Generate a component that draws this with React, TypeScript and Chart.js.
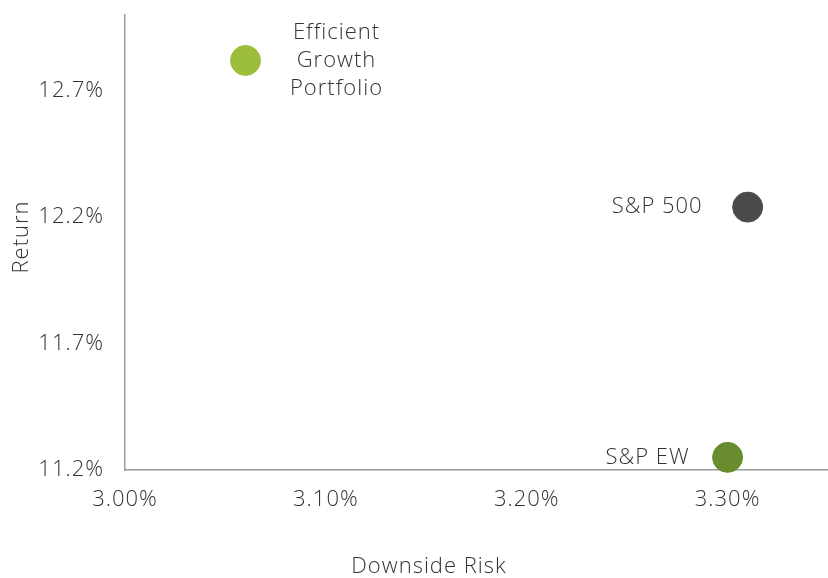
import React, { useEffect, useRef } from "react";
import { Chart, registerables } from "chart.js";

Chart.register(...registerables);

const names = ["Efficient Growth Portfolio", "S&P 500", "S&P EW"];
const labelLines = [["Efficient", "Growth", "Portfolio"], ["S&P 500"], ["S&P EW"]];
const downsideRisk = [3.06, 3.31, 3.30];
const returns = [12.82, 12.24, 11.25];
const colors = ["#9dbd3c", "#4b4b4b", "#688c2e"];
const xTicks = [3.0, 3.1, 3.2, 3.3];
const yTicks = [11.2, 11.7, 12.2, 12.7];

const FONT = "'Open Sans', Lato, sans-serif";
const TEXT = "#333333";
const FSIZE = 22;
const FWEIGHT = 300;
const SPACING = "1px";

const spacingPlugin = {
  id: "letterSpacing",
  beforeInit(chart: any) {
    chart.ctx.letterSpacing = SPACING;
  },
  beforeDraw(chart: any) {
    chart.ctx.letterSpacing = SPACING;
  },
};

const labelPlugin = {
  id: "pointLabels",
  afterDatasetsDraw(chart: any) {
    const ctx = chart.ctx;
    ctx.save();
    ctx.letterSpacing = SPACING;
    ctx.font = `${FWEIGHT} ${FSIZE}px ${FONT}`;
    ctx.fillStyle = TEXT;
    ctx.textBaseline = "middle";
    chart.data.datasets.forEach((ds: any, i: number) => {
      const meta = chart.getDatasetMeta(i);
      const pt = meta.data[0];
      if (!pt) return;
      const lines = labelLines[i];
      if (lines.length > 1) {
        ctx.textAlign = "center";
        const lh = 28;
        const cx = pt.x + 91;
        lines.forEach((l: string, k: number) => {
          ctx.fillText(l, cx, pt.y + (k - (lines.length - 1) / 2) * lh);
        });
      } else {
        ctx.textAlign = "right";
        const off = i === 1 ? 45 : 38;
        ctx.fillText(lines[0], pt.x - off, pt.y);
      }
    });
    // axis titles
    ctx.textAlign = "center";
    ctx.fillText("Downside Risk", 429, 567);
    ctx.translate(22, 237);
    ctx.rotate(-Math.PI / 2);
    ctx.fillText("Return", 0, 0);
    ctx.restore();
  },
};

export default function App() {
  const ref = useRef<HTMLCanvasElement | null>(null);
  useEffect(() => {
    document.body.style.margin = "0";
    if (!ref.current) return;
    const chart = new Chart(ref.current, {
      type: "scatter",
      data: {
        datasets: names.map((n, i) => ({
          label: n,
          data: [{ x: downsideRisk[i], y: returns[i] }],
          backgroundColor: colors[i],
          borderColor: colors[i],
          pointRadius: 15,
          pointHoverRadius: 15,
          clip: false as any,
        })),
      },
      options: {
        animation: false,
        responsive: false,
        layout: { autoPadding: false, padding: { top: 15, left: 0, right: 0, bottom: 0 } },
        plugins: { legend: { display: false }, tooltip: { enabled: false } },
        scales: {
          x: {
            type: "linear",
            min: 3.0,
            max: 3.35,
            afterBuildTicks: (s: any) => {
              s.ticks = xTicks.map((v) => ({ value: v }));
            },
            afterFit: (s: any) => {
              s.height = 108;
              s.paddingLeft = 0;
              s.paddingRight = 0;
            },
            grid: { display: true, color: "transparent", drawTicks: false },
            border: { display: true, color: "#9a9a9a", width: 1.5 },
            ticks: {
              padding: 17,
              color: TEXT,
              font: { family: FONT, size: FSIZE, weight: FWEIGHT as any },
              callback: (v: any) => Number(v).toFixed(2) + "%",
            },
          },
          y: {
            type: "linear",
            min: 11.2,
            max: 13.0,
            afterBuildTicks: (s: any) => {
              s.ticks = yTicks.map((v) => ({ value: v }));
            },
            afterFit: (s: any) => {
              s.width = 125;
              s.paddingTop = 0;
              s.paddingBottom = 0;
            },
            grid: { display: true, color: "transparent", drawTicks: false },
            border: { display: true, color: "#9a9a9a", width: 1.5 },
            ticks: {
              padding: 21,
              color: TEXT,
              font: { family: FONT, size: FSIZE, weight: FWEIGHT as any },
              callback: (v: any) => Number(v).toFixed(1) + "%",
            },
          },
        },
      },
      plugins: [spacingPlugin, labelPlugin],
    });
    return () => chart.destroy();
  }, []);
  return (
    <div style={{ position: "fixed", left: 0, top: 0, width: 828, height: 578 }}>
      <canvas ref={ref} width={828} height={578} style={{ width: 828, height: 578 }} />
    </div>
  );
}
